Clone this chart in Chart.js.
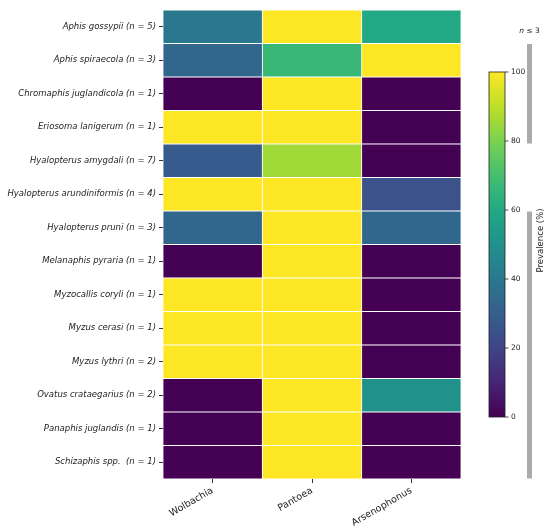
<!DOCTYPE html>
<html>
<head>
<meta charset="utf-8">
<script src="https://cdn.jsdelivr.net/npm/chart.js@4.4.1/dist/chart.umd.min.js"></script>
<style>
  html, body { margin: 0; padding: 0; background: #fff; }
  #wrap { width: 550px; height: 532px; position: relative; }
</style>
</head>
<body>
<div id="wrap"><canvas id="heatmap"></canvas></div>
<script>
// Aphid species (rows) and number of samples per species
const species = [
    'Aphis gossypii', 'Aphis spiraecola', 'Chromaphis juglandicola', 'Eriosoma lanigerum',
    'Hyalopterus amygdali', 'Hyalopterus arundiniformis', 'Hyalopterus pruni', 'Melanaphis pyraria',
    'Myzocallis coryli', 'Myzus cerasi', 'Myzus lythri', 'Ovatus crataegarius',
    'Panaphis juglandis', 'Schizaphis spp. '
];
const sampleSizes = [5, 3, 1, 1, 7, 4, 3, 1, 1, 1, 2, 2, 1, 1];

// Symbionts (columns) and prevalence (%) per species
const symbionts = ['Wolbachia', 'Pantoea', 'Arsenophonus'];
const wolbachia    = [40, 33.3, 0, 100, 28.6, 100, 33.3, 0, 100, 100, 100, 0, 0, 0];
const pantoea      = [100, 66.7, 100, 100, 85.7, 100, 100, 100, 100, 100, 100, 100, 100, 100];
const arsenophonus = [60, 100, 0, 0, 0, 25, 33.3, 0, 0, 0, 0, 50, 0, 0];

const colorbarTicks = [0, 20, 40, 60, 80, 100];
const smallSampleMax = 3;

// viridis colour map, sampled every 10%
const viridisStops = ['#440154', '#482475', '#414487', '#355f8d', '#2a788e', '#21918c',
                      '#22a884', '#44bf70', '#7ad151', '#bddf26', '#fde725'];

function hexToRgb(hex) {
    const n = parseInt(hex.slice(1), 16);
    return [(n >> 16) & 255, (n >> 8) & 255, n & 255];
}

function viridis(pct) {
    const t = Math.max(0, Math.min(1, pct / 100)) * (viridisStops.length - 1);
    const i = Math.min(Math.floor(t), viridisStops.length - 2);
    const f = t - i;
    const a = hexToRgb(viridisStops[i]);
    const b = hexToRgb(viridisStops[i + 1]);
    const c = a.map((v, k) => Math.round(v + (b[k] - v) * f));
    return `rgb(${c[0]}, ${c[1]}, ${c[2]})`;
}

const rowLabels = species.map((s, i) => `${s} (n = ${sampleSizes[i]})`);
const columns = [wolbachia, pantoea, arsenophonus];

const datasets = columns.map((values, j) => ({
    label: symbionts[j],
    data: values.map(() => [j, j + 1]),
    backgroundColor: values.map(viridis),
    borderColor: '#ffffff',
    borderWidth: 0.75,
    borderSkipped: false,
    grouped: false,
    barPercentage: 1,
    categoryPercentage: 1,
}));

// Colour bar range over the plot height (0 -> 417px, 100 -> 72px)
const cbMin = -17.97, cbMax = 117.97;

// Colour bar, "n <= 3" markers and axis title
const colorbarPlugin = {
    id: 'colorbar',
    afterDraw(chart) {
        const ctx = chart.ctx;
        const area = chart.chartArea;
        const yScale = chart.scales.y;
        const cbPixel = (v) => area.top + (cbMax - v) / (cbMax - cbMin) * (area.bottom - area.top);
        const top = cbPixel(100);
        const bottom = cbPixel(0);
        const left = 489, right = 505;

        ctx.save();
        const grad = ctx.createLinearGradient(0, bottom, 0, top);
        viridisStops.forEach((c, i) => grad.addColorStop(i / (viridisStops.length - 1), c));
        ctx.fillStyle = grad;
        ctx.fillRect(left, top, right - left, bottom - top);
        ctx.strokeStyle = '#222';
        ctx.lineWidth = 0.8;
        ctx.strokeRect(left, top, right - left, bottom - top);

        ctx.font = '7.5px "DejaVu Sans"';
        ctx.fillStyle = '#222';
        ctx.textAlign = 'left';
        ctx.textBaseline = 'middle';
        colorbarTicks.forEach(t => {
            const y = cbPixel(t);
            ctx.beginPath();
            ctx.moveTo(right, y);
            ctx.lineTo(right + 3.5, y);
            ctx.stroke();
            ctx.fillText(String(t), right + 6, y);
        });

        // grey bars next to rows with few samples
        const rowH = yScale.getPixelForValue(1) - yScale.getPixelForValue(0);
        ctx.fillStyle = '#ababab';
        let start = -1;
        for (let i = 0; i <= sampleSizes.length; i++) {
            const small = i < sampleSizes.length && sampleSizes[i] <= smallSampleMax;
            if (small && start < 0) start = i;
            if (!small && start >= 0) {
                const y0 = yScale.getPixelForValue(start) - rowH / 2 + 0.5;
                const y1 = yScale.getPixelForValue(i - 1) + rowH / 2 - 0.5;
                ctx.fillRect(527, y0, 5, y1 - y0);
                start = -1;
            }
        }

        // "n <= 3" label
        ctx.fillStyle = '#222';
        ctx.textBaseline = 'middle';
        ctx.font = 'italic 7.5px "DejaVu Sans"';
        const w1 = ctx.measureText('n').width;
        ctx.font = '7.5px "DejaVu Sans"';
        const rest = ' \u2264 ' + smallSampleMax;
        const w2 = ctx.measureText(rest).width;
        const x0 = 529.5 - (w1 + w2) / 2;
        ctx.font = 'italic 7.5px "DejaVu Sans"';
        ctx.fillText('n', x0, 31);
        ctx.font = '7.5px "DejaVu Sans"';
        ctx.fillText(rest, x0 + w1, 31);

        // colour bar title
        ctx.translate(541, (top + bottom) / 2 - 4);
        ctx.rotate(-Math.PI / 2);
        ctx.textAlign = 'center';
        ctx.font = '8.5px "DejaVu Sans"';
        ctx.fillText('Prevalence (%)', 0, 0);
        ctx.restore();
    }
};

new Chart(document.getElementById('heatmap'), {
    type: 'bar',
    data: { labels: rowLabels, datasets: datasets },
    options: {
        indexAxis: 'y',
        responsive: true,
        maintainAspectRatio: false,
        animation: false,
        layout: { padding: { top: 10, right: 89, left: 0, bottom: 0 } },
        plugins: { legend: { display: false }, tooltip: { enabled: false } },
        scales: {
            x: {
                type: 'linear',
                min: 0,
                max: symbionts.length,
                afterBuildTicks: (scale) => {
                    scale.ticks = symbionts.map((_, i) => ({ value: i + 0.5 }));
                },
                afterFit: (scale) => { scale.height = 53; },
                ticks: {
                    autoSkip: false,
                    minRotation: 30,
                    maxRotation: 30,
                    padding: 2,
                    color: '#222',
                    font: { family: 'DejaVu Sans', size: 9.5 },
                    callback: (value, index) => symbionts[index],
                },
                grid: { drawOnChartArea: false, tickLength: 4, color: '#333' },
                border: { display: false },
            },
            y: {
                type: 'category',
                offset: true,
                afterFit: (scale) => { scale.width = 163; },
                ticks: {
                    color: '#222',
                    padding: 3,
                    font: { family: 'DejaVu Sans', size: 8.5, style: 'italic' },
                },
                grid: { offset: false, drawOnChartArea: false, tickLength: 4, color: '#333' },
                border: { display: false },
            },
        },
    },
    plugins: [colorbarPlugin],
});
</script>
</body>
</html>
